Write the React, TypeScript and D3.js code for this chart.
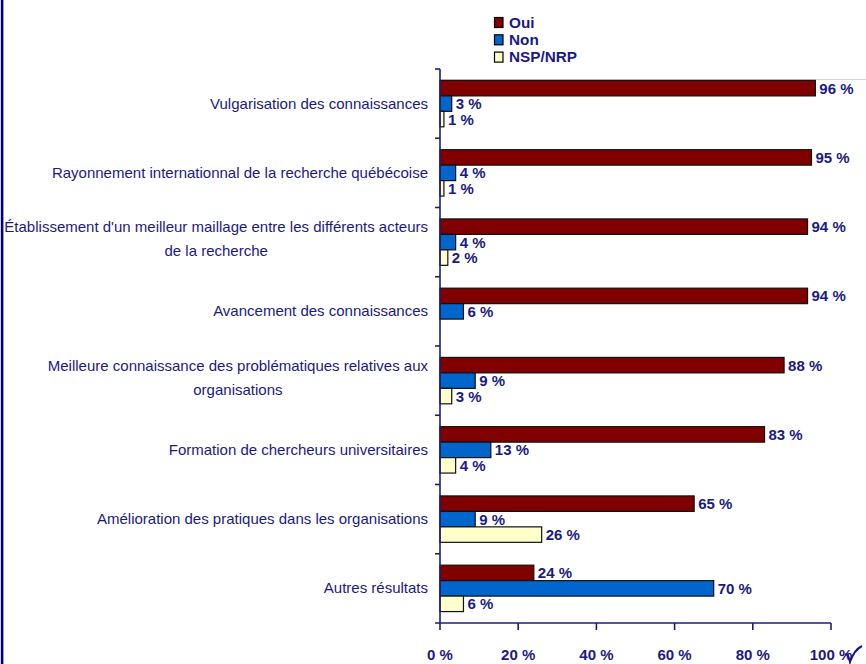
import React, { useLayoutEffect, useRef, useState } from "react";
import * as d3 from "d3";

const categories: string[][] = [
  ["Vulgarisation des connaissances"],
  ["Rayonnement internationnal de la recherche québécoise"],
  ["Établissement d'un meilleur maillage entre les différents acteurs", "de la recherche"],
  ["Avancement des connaissances"],
  ["Meilleure connaissance des problématiques relatives aux", "organisations"],
  ["Formation de chercheurs universitaires"],
  ["Amélioration des pratiques dans les organisations"],
  ["Autres résultats"],
];
const seriesNames = ["Oui", "Non", "NSP/NRP"];
const oui = [96, 95, 94, 94, 88, 83, 65, 24];
const non = [3, 4, 4, 6, 9, 13, 9, 70];
const nsp: (number | null)[] = [1, 1, 2, null, 3, 4, 26, 6];
const xTicks = [0, 20, 40, 60, 80, 100];

const colors = ["#800000", "#0066CC", "#FFFFCC"];
const navy = "#1a1a86";
const axisColor = "#1c1c80";
const font = "'Liberation Sans', Arial, sans-serif";

function CatLabel({ lines, right, cy }: { lines: string[]; right: number; cy: number }) {
  const ref = useRef<SVGTextElement>(null);
  const [w, setW] = useState(0);
  useLayoutEffect(() => {
    if (ref.current) setW(ref.current.getComputedTextLength());
  }, []);
  if (lines.length === 1) {
    return (
      <text x={right} y={cy + 5} fontSize={15} textAnchor="end" fill={navy}>{lines[0]}</text>
    );
  }
  const lh = 24;
  return (
    <g>
      <text ref={ref} x={right} y={cy - lh / 2 + 2} fontSize={15} textAnchor="end" fill={navy}>{lines[0]}</text>
      {lines.slice(1).map((l, j) => (
        <text key={j} x={right - w / 2} y={cy - lh / 2 + 2 + lh * (j + 1)} fontSize={15} textAnchor="middle" fill={navy}>{l}</text>
      ))}
    </g>
  );
}

export default function App() {
  const W = 866, H = 664;
  const x = d3.scaleLinear().domain([0, 100]).range([440, 831]);
  const keys = categories.map((c) => c.join(" "));
  const y = d3.scaleBand<string>().domain(keys).range([69, 623]);
  const bw = y.bandwidth();
  const inner = d3.scaleBand<string>().domain(seriesNames).range([bw * 0.165, bw * 0.835]);
  const series = [oui, non, nsp];

  return (
    <div style={{ position: "absolute", left: 0, top: 0 }}>
      <svg width={W} height={H} style={{ display: "block", background: "#fff" }} fontFamily={font}>
        <rect x={0.8} y={0} width={2.6} height={H} fill="#00007a" />
        <line x1={440} x2={W} y1={79.5} y2={79.5} stroke="#d4d4d4" strokeWidth={1} />
        {seriesNames.map((s, i) => (
          <g key={s} transform={`translate(494, ${17 + i * 17.3})`}>
            <rect x={0.5} y={0.5} width={8.5} height={10} fill={colors[i]} stroke="#000" strokeWidth={1.2} />
            <text x={15} y={10.5} fontSize={15.3} fontWeight="bold" fill={navy}>{s}</text>
          </g>
        ))}
        {series.map((vals, si) =>
          vals.map((v, ci) => {
            if (v == null) return null;
            const y0 = (y(keys[ci]) as number) + (inner(seriesNames[si]) as number);
            const h = inner.bandwidth();
            return (
              <g key={`${si}-${ci}`}>
                <rect x={x(0)} y={y0} width={x(v) - x(0)} height={h} fill={colors[si]} stroke="#111" strokeWidth={1.2} />
                <text x={x(v) + 4} y={y0 + h / 2 + 5.5} fontSize={15} fontWeight="bold" fill={navy}>{`${v} %`}</text>
              </g>
            );
          })
        )}
        <line x1={440} x2={440} y1={69} y2={623} stroke={axisColor} strokeWidth={1.6} />
        {keys.map((k) => (
          <line key={k} x1={435} x2={440} y1={y(k) as number} y2={y(k) as number} stroke={axisColor} strokeWidth={1.6} />
        ))}
        {categories.map((lines, i) => (
          <CatLabel key={i} lines={lines} right={428} cy={(y(keys[i]) as number) + bw / 2} />
        ))}
        <line x1={435} x2={x(100)} y1={623} y2={623} stroke={axisColor} strokeWidth={1.6} />
        {xTicks.map((t) => (
          <g key={t}>
            <line x1={x(t)} x2={x(t)} y1={623} y2={630} stroke={axisColor} strokeWidth={1.6} />
            <text x={x(t)} y={660} fontSize={15} fontWeight="bold" textAnchor="middle" fill={navy}>{`${t} %`}</text>
          </g>
        ))}
        <path d="M845,655 Q848,652 850,662 Q854,650 862,646" fill="none" stroke={navy} strokeWidth={2} />
      </svg>
    </div>
  );
}
